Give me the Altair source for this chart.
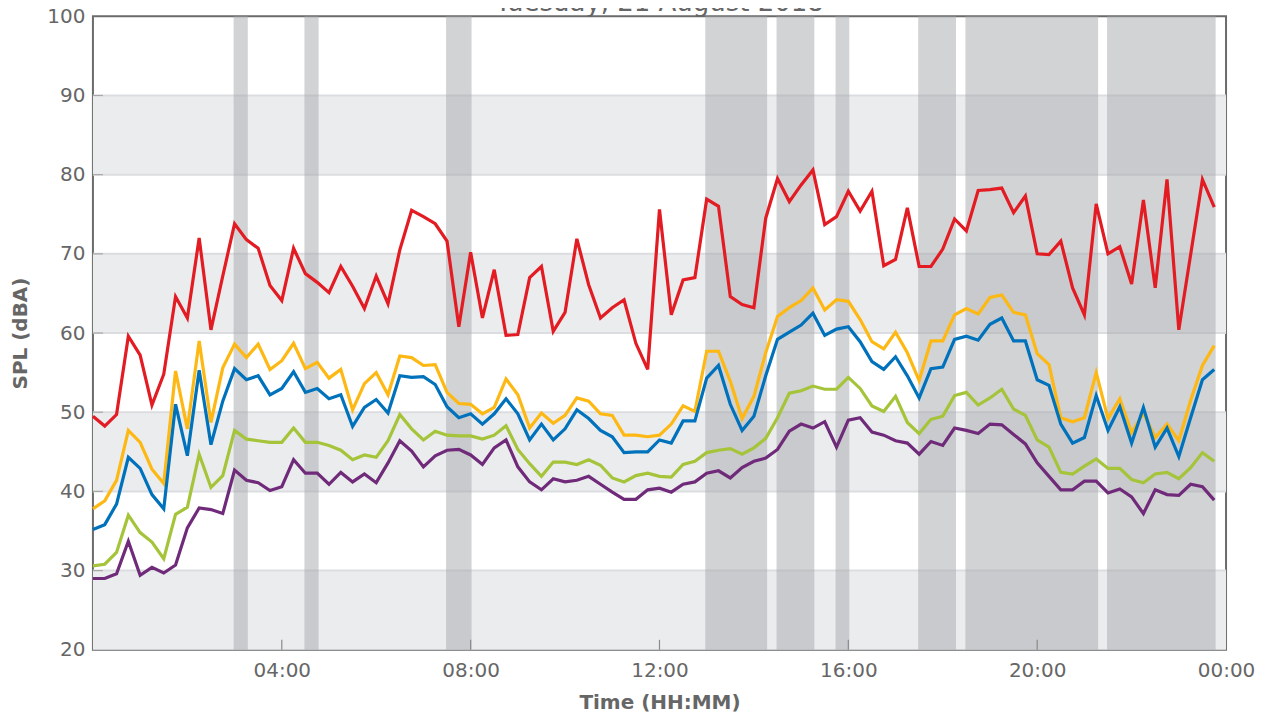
import altair as alt
import pandas as pd

TITLE = "Tuesday, 21 August 2018"
X_TITLE = "Time (HH:MM)"
Y_TITLE = "SPL (dBA)"

# 15-minute samples over the day
TIME_LABELS = [f"{h:02d}:{m:02d}" for h in range(24) for m in (0, 15, 30, 45)]

SERIES = ["LAFmax", "LAF10", "LAeq", "LAF90", "LAFmin"]
COLORS = ["#e31b23", "#fdb813", "#0071bb", "#a5c43a", "#702a7a"]

LAFMAX = [49.5, 48.25, 49.7, 59.6, 57.2, 50.9, 54.8, 64.6, 61.9, 72.0,
          60.4, 67.2, 73.8, 71.8, 70.7, 66.0, 64.1, 70.7, 67.5, 66.4,
          65.1, 68.4, 65.9, 63.1, 67.2, 63.7, 70.5, 75.5, 74.7, 73.8,
          71.6, 60.8, 70.2, 61.9, 68.0, 59.7, 59.8, 67.0, 68.4, 60.2,
          62.6, 71.9, 66.1, 61.9, 63.2, 64.2, 58.7, 55.4, 75.6, 62.3,
          66.7, 67.0, 76.9, 76.0, 64.6, 63.6, 63.2, 74.5, 79.5, 76.6,
          78.7, 80.6, 73.7, 74.7, 77.9, 75.4, 77.9, 68.5, 69.3, 75.8,
          68.4, 68.4, 70.6, 74.4, 72.9, 78.0, 78.1, 78.3, 75.2, 77.3,
          70.0, 69.9, 71.6, 65.7, 62.3, 76.3, 70.0, 70.9, 66.2, 76.8,
          65.7, 79.4, 60.4, 69.9, 79.4, 75.9]

LAF10 = [37.8, 38.8, 41.4, 47.7, 46.2, 42.8, 41.0, 55.2, 47.9, 59.0,
         48.7, 55.6, 58.6, 56.9, 58.6, 55.4, 56.5, 58.7, 55.5, 56.3,
         54.3, 55.4, 50.3, 53.6, 55.0, 52.2, 57.1, 56.9, 55.9, 56.0,
         52.5, 51.1, 51.0, 49.8, 50.6, 54.2, 52.2, 48.0, 49.9, 48.6,
         49.6, 51.8, 51.4, 49.8, 49.6, 47.1, 47.1, 46.9, 47.1, 48.5,
         50.8, 50.1, 57.7, 57.7, 53.9, 49.2, 52.0, 57.5, 62.1, 63.2,
         64.1, 65.7, 62.9, 64.2, 64.0, 61.7, 58.9, 58.0, 60.1, 57.5,
         54.0, 59.0, 59.0, 62.3, 63.1, 62.4, 64.5, 64.8, 62.6, 62.3,
         57.4, 56.0, 49.3, 48.8, 49.3, 55.0, 49.2, 51.7, 47.4, 49.9,
         46.8, 48.5, 46.4, 51.5, 55.9, 58.4]

LAEQ = [35.2, 35.8, 38.4, 44.3, 42.9, 39.6, 37.8, 51.0, 44.5, 55.3,
        45.9, 51.4, 55.5, 54.1, 54.6, 52.2, 53.0, 55.1, 52.5, 53.0,
        51.7, 52.2, 48.2, 50.6, 51.6, 49.9, 54.6, 54.4, 54.5, 53.5,
        50.7, 49.3, 49.8, 48.5, 49.8, 51.7, 49.8, 46.5, 48.5, 46.5,
        47.9, 50.3, 49.2, 47.7, 46.9, 44.9, 45.0, 45.0, 46.5, 46.1,
        48.9, 48.9, 54.3, 55.9, 51.0, 47.7, 49.5, 54.6, 59.2, 60.1,
        61.0, 62.5, 59.7, 60.5, 60.8, 58.9, 56.4, 55.4, 57.0, 54.6,
        51.8, 55.5, 55.7, 59.2, 59.6, 59.1, 61.1, 61.9, 59.0, 59.0,
        54.1, 53.4, 48.5, 46.1, 46.8, 52.1, 47.7, 50.7, 46.1, 50.6,
        45.6, 48.0, 44.4, 49.3, 54.1, 55.4]

LAF90 = [30.6, 30.8, 32.3, 37.0, 34.8, 33.6, 31.5, 37.1, 38.0, 44.7,
         40.5, 42.0, 47.7, 46.6, 46.4, 46.2, 46.2, 48.0, 46.2, 46.2,
         45.8, 45.2, 44.0, 44.6, 44.3, 46.4, 49.7, 47.9, 46.5, 47.6,
         47.1, 47.0, 47.0, 46.6, 47.1, 48.3, 45.3, 43.5, 41.9, 43.7,
         43.7, 43.4, 44.0, 43.3, 41.7, 41.2, 42.0, 42.3, 41.9, 41.8,
         43.4, 43.8, 44.9, 45.2, 45.4, 44.7, 45.5, 46.7, 49.3, 52.4,
         52.7, 53.3, 52.9, 52.9, 54.4, 53.0, 50.8, 50.1, 52.0, 48.7,
         47.3, 49.1, 49.5, 52.1, 52.5, 50.9, 51.8, 52.9, 50.4, 49.6,
         46.5, 45.6, 42.4, 42.2, 43.2, 44.1, 42.9, 42.9, 41.5, 41.1,
         42.2, 42.4, 41.6, 43.0, 44.9, 43.8]

LAFMIN = [29.0, 29.0, 29.6, 33.7, 29.4, 30.4, 29.7, 30.7, 35.4, 37.9,
          37.7, 37.2, 42.7, 41.4, 41.1, 40.1, 40.6, 44.0, 42.3, 42.3,
          40.9, 42.4, 41.2, 42.2, 41.1, 43.6, 46.4, 45.1, 43.1, 44.5,
          45.2, 45.3, 44.6, 43.4, 45.5, 46.5, 43.1, 41.2, 40.2, 41.6,
          41.2, 41.4, 41.9, 40.9, 39.9, 39.0, 39.0, 40.2, 40.4, 39.9,
          40.9, 41.2, 42.3, 42.6, 41.7, 43.0, 43.8, 44.2, 45.3, 47.6,
          48.5, 48.0, 48.8, 45.6, 49.0, 49.3, 47.5, 47.1, 46.4, 46.1,
          44.7, 46.3, 45.8, 48.0, 47.7, 47.3, 48.5, 48.4, 47.2, 46.0,
          43.6, 41.9, 40.2, 40.2, 41.3, 41.3, 39.8, 40.3, 39.3, 37.2,
          40.2, 39.6, 39.5, 40.9, 40.6, 38.9]

# shaded periods (hours of day)
BAND_START = [2.98, 4.48, 7.48, 12.97, 14.48, 15.73, 17.48, 18.48, 21.48]
BAND_END = [3.28, 4.78, 8.02, 14.28, 15.28, 16.02, 18.28, 21.29, 23.78]

# alternating horizontal background bands
HBAND_LO = [20, 40, 60, 80]
HBAND_HI = [30, 50, 70, 90]

Y_TICKS = [20, 30, 40, 50, 60, 70, 80, 90, 100]
X_TICKS = [4, 8, 12, 16, 20, 24]
X_DOMAIN = [0, 24]
Y_DOMAIN = [20, 100]

W, H = 1134, 634
FONT = "DejaVu Sans"
TEXT_GREY = "#666666"


def to_hours(s):
    h, m = s.split(":")
    return int(h) + int(m) / 60.0


hours = [to_hours(t) for t in TIME_LABELS]
rows = []
for name, vals in zip(SERIES, [LAFMAX, LAF10, LAEQ, LAF90, LAFMIN]):
    for k, (t, v) in enumerate(zip(hours, vals)):
        rows.append({"series": name, "t": t, "spl": v, "k": k})
lines_df = pd.DataFrame(rows)

hb_df = pd.DataFrame({"lo": HBAND_LO, "hi": HBAND_HI,
                      "x0": [X_DOMAIN[0]] * 4, "x1": [X_DOMAIN[1]] * 4})
vb_df = pd.DataFrame({"s": BAND_START, "e": BAND_END})
grid_df = pd.DataFrame({"v": Y_TICKS[1:-1]})
xt_df = pd.DataFrame({"v": X_TICKS[:-1]})
title_df = pd.DataFrame({"label": [TITLE]})

xs = alt.Scale(domain=X_DOMAIN, nice=False, zero=False)
ys = alt.Scale(domain=Y_DOMAIN, nice=False, zero=False)

x_axis = alt.Axis(
    values=X_TICKS,
    labelExpr="(datum.value % 24 < 10 ? '0' : '') + (datum.value % 24) + ':00'",
    labelFlush=False, labelPadding=11, ticks=False,
    domain=False, grid=False,
    title=X_TITLE, titleY=59, titleBaseline="alphabetic",
)
y_axis = alt.Axis(
    values=Y_TICKS, labelPadding=8, ticks=False,
    domain=False, grid=False, title=Y_TITLE,
    titleX=-72, titleBaseline="middle",
)

hbands = alt.Chart(hb_df).mark_rect(color="#ebecee").encode(
    x=alt.X("x0:Q", scale=xs, axis=x_axis),
    x2="x1:Q",
    y=alt.Y("lo:Q", scale=ys, axis=y_axis),
    y2="hi:Q",
)

grid = alt.Chart(grid_df).mark_rule(color="#dcdde0", strokeWidth=2).encode(
    y=alt.Y("v:Q", scale=ys, axis=y_axis),
    x=alt.value(0), x2=alt.value(W),
)

vbands = alt.Chart(vb_df).mark_rect(color="#a5a7ab", opacity=0.5).encode(
    x=alt.X("s:Q", scale=xs, axis=x_axis),
    x2="e:Q",
    y=alt.value(0), y2=alt.value(H),
)

yticks = alt.Chart(grid_df).mark_rule(color="#a8a8a8", strokeWidth=1.2).encode(
    y=alt.Y("v:Q", scale=ys, axis=y_axis),
    x=alt.value(0), x2=alt.value(10),
)
xticks = alt.Chart(xt_df).mark_rule(color="#8a8a8a", strokeWidth=1.2).encode(
    x=alt.X("v:Q", scale=xs, axis=x_axis),
    y=alt.value(H - 10), y2=alt.value(H),
)

lines = alt.Chart(lines_df).mark_line(strokeWidth=3.2).encode(
    x=alt.X("t:Q", scale=xs, axis=x_axis),
    y=alt.Y("spl:Q", scale=ys, axis=y_axis),
    color=alt.Color("series:N", scale=alt.Scale(domain=SERIES, range=COLORS),
                    legend=None),
    order="k:Q",
)

title = alt.Chart(title_df).mark_text(
    font=FONT, fontSize=26, color=TEXT_GREY, align="center",
    baseline="alphabetic",
).encode(
    text="label:N", x=alt.value(W / 2), y=alt.value(-5.5),
)

chart = alt.layer(hbands, grid, vbands, yticks, xticks, lines, title).properties(
    width=W, height=H,
    padding={"left": 85, "top": 8, "right": 40, "bottom": 64},
    autosize=alt.AutoSizeParams(type="none"),
).configure_view(
    stroke="#6b6b6b", strokeWidth=2,
).configure_axis(
    labelFont=FONT, labelFontSize=20, labelColor=TEXT_GREY,
    titleFont=FONT, titleFontSize=20, titleFontWeight="bold",
    titleColor=TEXT_GREY,
)

chart.save("out.html", embed_options={"renderer": "svg", "actions": False})
